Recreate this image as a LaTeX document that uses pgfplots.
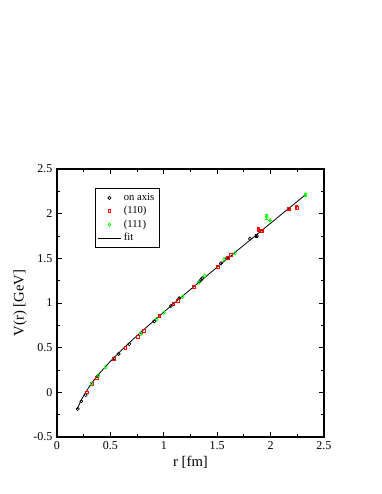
\documentclass[border=0pt]{standalone}
\usepackage{pgfplots}
\pgfplotsset{compat=1.18}
\usepackage{fontspec}
\setmainfont{Liberation Serif}
\definecolor{grred}{RGB}{255,0,0}
\definecolor{grgreen}{RGB}{0,255,0}
\begin{document}
\begin{tikzpicture}[x=1pt,y=1pt]
\useasboundingbox (-42.75,-42.75) rectangle (243.75,327.75);
\begin{axis}[
    at={(0,0)}, anchor=south west,
    scale only axis,
    width=200.25pt, height=201pt,
    xmin=0, xmax=2.5, ymin=-0.5, ymax=2.5,
    xtick={0,0.5,...,2.5}, ytick={-0.5,0,...,2.5},
    minor x tick num=1, minor y tick num=1,
    tick align=inside,
    major tick length=4pt, minor tick length=2pt,
    axis line style={line width=0.8pt},
    every tick/.style={line width=0.6pt, black},
    ticklabel style={font=\fontsize{9}{10}\selectfont},
    /pgf/number format/assume math mode=true,
    xlabel={r [fm]}, ylabel={V(r) [GeV]},
    label style={font=\fontsize{11}{12}\selectfont},
    xlabel style={yshift=2pt},
    ylabel style={yshift=-2pt},
    legend style={at={(rel axis cs:0.143,0.928)}, anchor=north west,
        font=\fontsize{8}{9.5}\selectfont, draw=black, line width=0.6pt,
        inner sep=1.5pt, row sep=-1pt},
    legend cell align=left,
    error bars/error bar style={line width=0.5pt},
    error bars/error mark options={rotate=90, mark size=1.2pt, line width=0.5pt},
]
\addplot[only marks, black, mark=o, mark size=1.2pt, line width=0.5pt] table {
r V
0.194 -0.186
0.228 -0.100
0.268 -0.030
0.380 0.180
0.534 0.381
0.577 0.430
0.677 0.540
0.793 0.668
0.911 0.796
1.067 0.967
1.145 1.053
1.332 1.236
1.348 1.258
1.360 1.277
1.536 1.445
1.590 1.500
1.807 1.720
};
\addlegendentry{on axis}
\addplot[only marks, grred, mark=square, mark size=1.1pt, line width=0.5pt] table {
r V
0.275 0.000
0.322 0.090
0.375 0.160
0.530 0.375
0.640 0.500
0.755 0.623
0.815 0.690
0.958 0.855
1.089 0.990
1.130 1.026
1.283 1.183
1.505 1.400
1.600 1.510
1.630 1.534
};
\addlegendentry{(110)}
\addplot[only marks, grgreen, mark=diamond, mark size=1.4pt, line width=0.5pt] table {
r V
0.325 0.094
0.388 0.190
0.456 0.280
0.785 0.655
0.933 0.818
1.000 0.892
1.177 1.070
1.330 1.230
1.382 1.306
1.564 1.490
1.667 1.560
};
\addlegendentry{(111)}
\addplot[black, line width=0.6pt, smooth] coordinates {
(0.19,-0.186) (0.22,-0.105) (0.25,-0.037) (0.30,0.059) (0.35,0.141)
(0.40,0.215) (0.50,0.347) (0.60,0.467) (0.70,0.580) (0.80,0.688)
(1.00,0.898) (1.20,1.102) (1.40,1.302) (1.60,1.501) (1.80,1.697)
(2.00,1.893) (2.20,2.088) (2.33,2.215)
};
\addlegendentry{fit}
% points with visible error bars
\addplot[forget plot, only marks, black, mark=o, mark size=1.2pt, line width=0.5pt,
    error bars/.cd, y dir=both, y explicit] table[x=r, y=V, y error=e] {
r V e
1.870 1.750 0.015
};
\addplot[forget plot, only marks, grred, mark=square, mark size=1.1pt, line width=0.5pt,
    error bars/.cd, y dir=both, y explicit] table[x=r, y=V, y error=e] {
r V e
1.885 1.826 0.025
1.920 1.810 0.015
2.175 2.057 0.010
2.244 2.068 0.025
};
\addplot[forget plot, only marks, grgreen, mark=diamond, mark size=1.4pt, line width=0.5pt,
    error bars/.cd, y dir=both, y explicit] table[x=r, y=V, y error=e] {
r V e
1.963 1.967 0.025
1.995 1.925 0.005
2.328 2.213 0.020
};
\end{axis}
\end{tikzpicture}
\end{document}
